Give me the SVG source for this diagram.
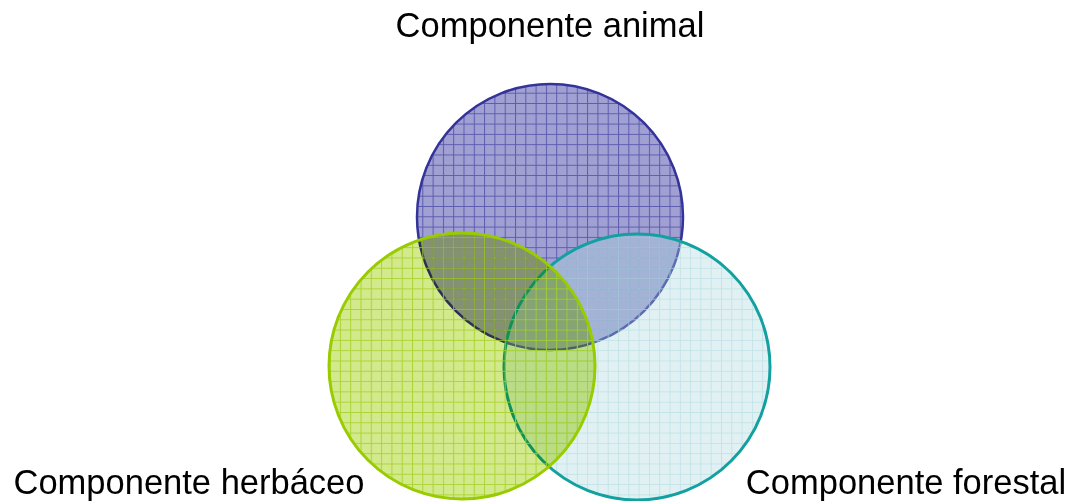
<svg xmlns="http://www.w3.org/2000/svg" width="1070" height="501" viewBox="0 0 1070 501">
<style>
.lbl{font-family:"Liberation Sans",Arial,sans-serif;font-size:34.5px;fill:#000;text-anchor:middle}
</style>
<defs>
<pattern id="pBlue" width="10.3" height="10.3" patternUnits="userSpaceOnUse">
<rect width="10.3" height="10.3" fill="#a0a0d2"/>
<path d="M0 0.5H10.3M0.5 0V10.3" stroke="#5c5cb0" stroke-width="1" fill="none"/>
</pattern>
<pattern id="gGreen" width="10.3" height="10.3" patternUnits="userSpaceOnUse">
<path d="M0 0.5H10.3M0.5 0V10.3" stroke="#a6d126" stroke-width="1" fill="none"/>
</pattern>
<pattern id="gTeal" width="10.3" height="10.3" patternUnits="userSpaceOnUse">
<path d="M0 0.5H10.3M0.5 0V10.3" stroke="#b6dee2" stroke-width="1" fill="none"/>
</pattern>
</defs>
<g id="animal">
<circle cx="550" cy="217" r="133" fill="url(#pBlue)" stroke="#333399" stroke-width="2.5"/>
</g>
<g id="forestal">
<circle cx="637" cy="367" r="133" fill="#a8d7dc" fill-opacity="0.35"/>
<circle cx="637" cy="367" r="133" fill="url(#gTeal)" fill-opacity="0.7" stroke="#12a0a0" stroke-width="3"/>
</g>
<g id="herbaceo">
<circle cx="462" cy="366" r="133" fill="#d2e98c" style="mix-blend-mode:multiply"/>
<circle cx="462" cy="366" r="133" fill="url(#gGreen)" fill-opacity="0.85" stroke="#99cc00" stroke-width="3"/>
</g>
<g id="connectors"></g>
<g id="labels">
<text class="lbl" x="550" y="37">Componente animal</text>
<text class="lbl" x="189" y="494">Componente herbáceo</text>
<text class="lbl" x="906" y="494">Componente forestal</text>
</g>
</svg>
